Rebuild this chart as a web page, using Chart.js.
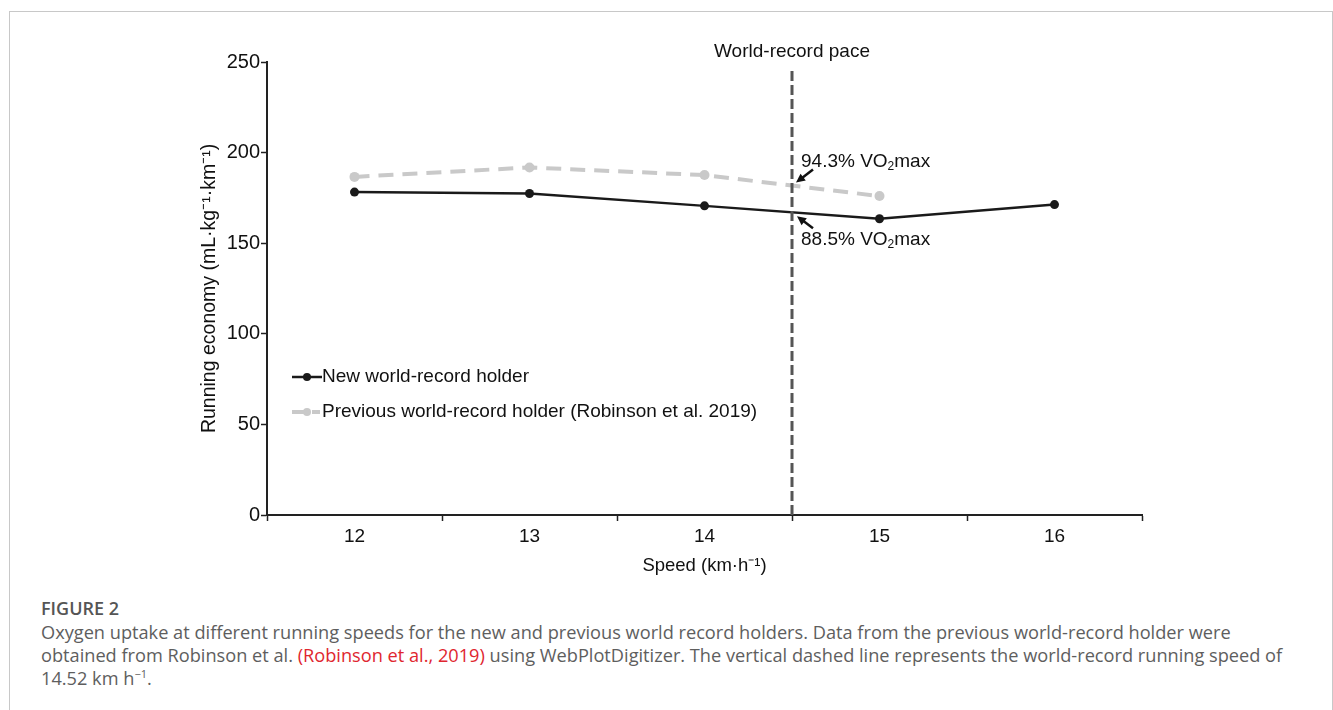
<!DOCTYPE html>
<html>
<head>
<meta charset="utf-8">
<script src="https://cdn.jsdelivr.net/npm/chart.js@4"></script>
<style>
    body {
        margin: 0;
        background: #fff;
        width: 1333px;
        height: 710px;
        overflow: hidden;
        position: relative;
    }
    .frame {
        position: absolute;
        left: 9px;
        top: 11px;
        width: 1322px;
        height: 720px;
        border: 1px solid #c8c8c8;
        border-bottom: none;
    }
    .chart {
        position: absolute;
        left: 0;
        top: 0;
    }
    .caption {
        position: absolute;
        left: 41px;
        top: 597px;
        width: 1290px;
        white-space: nowrap;
        font-family: "Open Sans", sans-serif;
        font-size: 18.2px;
        line-height: 23px;
        color: #5e5e5e;
    }
    .caption .fig {
        font-weight: 600;
        font-size: 18px;
        color: #555;
        margin-bottom: 1px;
    }
    .caption .ref {
        color: #e0262f;
    }
</style>
</head>
<body>
<div class="frame"></div>
<div class="chart">
    <canvas id="myChart" width="1333" height="580"></canvas>
</div>
<div class="caption">
    <div class="fig">FIGURE 2</div>
    Oxygen uptake at different running speeds for the new and previous world record holders. Data from the previous world-record holder were<br>
    obtained from Robinson et al. <span class="ref">(Robinson et al., 2019)</span> using WebPlotDigitizer. The vertical dashed line represents the world-record running speed of<br>
    14.52 km h<sup style="font-size:11px;line-height:0">−1</sup>.
</div>
<script>
    // значения
    const speeds = [12, 13, 14, 15, 16];
    const newHolder = [178.2, 177.4, 170.6, 163.5, 171.3];
    const prevSpeeds = [12, 13, 14, 15];
    const prevHolder = [186.6, 191.8, 187.6, 176.0];
    const paceX = [14.5, 14.5];
    const paceY = [0, 247];
    const yTicks = [0, 50, 100, 150, 200, 250];

    const FONT = '"Liberation Sans", Arial, sans-serif';
    const BLACK = '#1a1a1a';
    const GREY = '#c9c9c9';

    function toPoints(xs, ys) {
        return xs.map((x, i) => ({ x, y: ys[i] }));
    }

    function drawArrow(ctx, x1, y1, x2, y2) {
        const a = Math.atan2(y2 - y1, x2 - x1);
        const head = 10;
        ctx.save();
        ctx.strokeStyle = '#111';
        ctx.fillStyle = '#111';
        ctx.lineWidth = 2.5;
        ctx.beginPath();
        ctx.moveTo(x1, y1);
        ctx.lineTo(x2 - Math.cos(a) * head * 0.8, y2 - Math.sin(a) * head * 0.8);
        ctx.stroke();
        ctx.beginPath();
        ctx.moveTo(x2, y2);
        ctx.lineTo(x2 - head * Math.cos(a - 0.45), y2 - head * Math.sin(a - 0.45));
        ctx.lineTo(x2 - head * Math.cos(a + 0.45), y2 - head * Math.sin(a + 0.45));
        ctx.closePath();
        ctx.fill();
        ctx.restore();
    }

    function drawVO2(ctx, x, y, pct) {
        ctx.save();
        ctx.fillStyle = '#111';
        ctx.textBaseline = 'middle';
        ctx.textAlign = 'left';
        ctx.font = '19px ' + FONT;
        const a = pct + ' VO';
        ctx.fillText(a, x, y);
        let w = ctx.measureText(a).width;
        ctx.font = '12px ' + FONT;
        ctx.fillText('2', x + w, y + 5);
        w += ctx.measureText('2').width;
        ctx.font = '19px ' + FONT;
        ctx.fillText('max', x + w, y);
        ctx.restore();
    }

    const annotations = {
        id: 'annotations',
        afterDatasetsDraw(chart) {
            const { ctx, scales: { x, y } } = chart;
            const px = x.getPixelForValue(paceX[0]);
            // точки пересечения линий с вертикалью
            const prevAt = (prevHolder[2] + prevHolder[3]) / 2;
            const newAt = (newHolder[2] + newHolder[3]) / 2;
            const py1 = y.getPixelForValue(prevAt);
            const py2 = y.getPixelForValue(newAt);

            ctx.save();
            ctx.fillStyle = '#111';
            ctx.font = '19px ' + FONT;
            ctx.textAlign = 'center';
            ctx.textBaseline = 'middle';
            ctx.fillText('World-record pace', px, 52);
            ctx.restore();

            drawArrow(ctx, px + 21, py1 - 16, px + 4, py1 - 3);
            drawArrow(ctx, px + 21, py2 + 16, px + 5, py2 + 4);
            drawVO2(ctx, px + 9, py1 - 24, '94.3%');
            drawVO2(ctx, px + 9, py2 + 27, '88.5%');

            // легенда
            const rows = [
                { y: 377, ds: chart.data.datasets[0] },
                { y: 412, ds: chart.data.datasets[1] },
            ];
            rows.forEach(({ y: ly, ds }, i) => {
                ctx.save();
                ctx.strokeStyle = ds.borderColor;
                ctx.fillStyle = ds.borderColor;
                ctx.lineWidth = ds.borderWidth;
                ctx.beginPath();
                if (i === 0) {
                    ctx.moveTo(292, ly);
                    ctx.lineTo(322, ly);
                } else {
                    ctx.moveTo(292, ly);
                    ctx.lineTo(305, ly);
                    ctx.moveTo(312, ly);
                    ctx.lineTo(320, ly);
                }
                ctx.stroke();
                ctx.beginPath();
                ctx.arc(307, ly, 4, 0, Math.PI * 2);
                ctx.fill();
                ctx.fillStyle = '#111';
                ctx.font = '19px ' + FONT;
                ctx.textBaseline = 'middle';
                ctx.fillText(ds.label, 322, ly);
                ctx.restore();
            });
        }
    };

    const ctx = document.getElementById('myChart').getContext('2d');
    const myChart = new Chart(ctx, {
        type: 'line',
        data: {
            datasets: [
                {
                    label: 'New world-record holder',
                    data: toPoints(speeds, newHolder),
                    borderColor: BLACK,
                    backgroundColor: BLACK,
                    borderWidth: 2.5,
                    pointRadius: 4.5,
                    pointBorderWidth: 0,
                    tension: 0,
                    order: 1
                },
                {
                    label: 'Previous world-record holder (Robinson et al. 2019)',
                    data: toPoints(prevSpeeds, prevHolder),
                    borderColor: GREY,
                    backgroundColor: GREY,
                    borderWidth: 4,
                    borderDash: [15, 9],
                    pointRadius: 5,
                    pointBorderWidth: 0,
                    tension: 0,
                    order: 2
                },
                {
                    label: 'World-record pace',
                    data: toPoints(paceX, paceY),
                    borderColor: '#555',
                    borderWidth: 3,
                    borderDash: [10, 4],
                    pointRadius: 0,
                    order: 0
                }
            ]
        },
        options: {
            responsive: false,
            animation: false,
            layout: {
                padding: { left: 194, right: 191, top: 62, bottom: 0 }
            },
            plugins: {
                legend: { display: false },
                tooltip: { enabled: false }
            },
            scales: {
                x: {
                    type: 'linear',
                    min: 11.5,
                    max: 16.5,
                    afterFit(scale) { scale.height = 65; },
                    ticks: {
                        stepSize: 0.5,
                        autoSkip: false,
                        maxRotation: 0,
                        padding: 4,
                        color: '#111',
                        font: { family: FONT, size: 19 },
                        callback: (v) => Number.isInteger(v) ? String(v) : ''
                    },
                    grid: {
                        drawOnChartArea: false,
                        tickLength: 6,
                        tickWidth: 1.5,
                        tickColor: (c) => (c.tick && Number.isInteger(c.tick.value)) ? 'rgba(0,0,0,0)' : '#222'
                    },
                    border: { display: true, color: '#222', width: 2 },
                    title: {
                        display: true,
                        text: 'Speed (km·h⁻¹)',
                        color: '#111',
                        padding: { top: 4, bottom: 3 },
                        font: { family: FONT, size: 18.5 }
                    }
                },
                y: {
                    min: 0,
                    max: 250,
                    afterFit(scale) { scale.width = 73; },
                    afterBuildTicks(scale) {
                        scale.ticks = yTicks.map((v) => ({ value: v }));
                    },
                    ticks: {
                        padding: 1,
                        color: '#111',
                        font: { family: FONT, size: 20 }
                    },
                    grid: {
                        drawOnChartArea: false,
                        tickLength: 6,
                        tickWidth: 1.5,
                        tickColor: '#222'
                    },
                    border: { display: true, color: '#222', width: 2 },
                    title: {
                        display: true,
                        text: 'Running economy (mL·kg⁻¹·km⁻¹)',
                        color: '#111',
                        font: { family: FONT, size: 19.5 }
                    }
                }
            }
        },
        plugins: [annotations]
    });
</script>
</body>
</html>
